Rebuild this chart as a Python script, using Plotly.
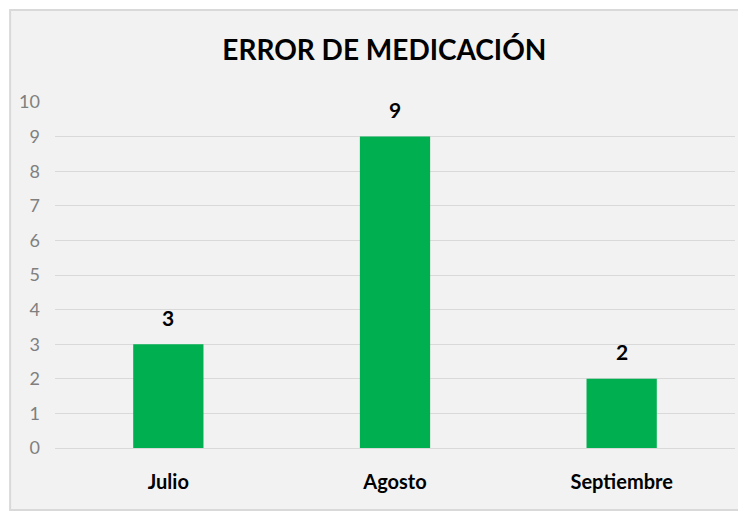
"""Error de medicación — bar chart by month."""
import plotly.graph_objects as go

meses = ["Julio", "Agosto", "Septiembre"]
errores = [3, 9, 2]
y_ticks = list(range(0, 11))

BAR_GREEN = "#00b050"
FONT = "Lato, Open Sans, sans-serif"

fig = go.Figure()
fig.add_trace(go.Bar(
    x=meses,
    y=errores,
    width=0.31,
    marker=dict(color=BAR_GREEN, line=dict(width=0)),
))

# value labels above each bar
for mes, val in zip(meses, errores):
    fig.add_annotation(
        x=mes, y=val, text=f"<b>{val}</b>", showarrow=False,
        yanchor="middle", yshift=27,
        font=dict(family=FONT, size=21, color="#000000"),
    )

# gray chart panel with thin border, like the spreadsheet chart area
fig.add_shape(
    type="rect", xref="paper", yref="paper",
    x0=-0.066, x1=1.007, y0=-0.179, y1=1.266,
    fillcolor="#f2f2f2", line=dict(color="#d9d9d9", width=2),
    layer="below",
)

# page body adds an 8px offset, so the figure is 8px smaller
fig.update_layout(
    width=738, height=504,
    paper_bgcolor="#ffffff",
    plot_bgcolor="rgba(0,0,0,0)",
    margin=dict(l=47, r=11, t=94, b=64),
    showlegend=False,
    title=dict(
        text="ERROR DE MEDICACIÓN",
        x=0.51, xanchor="center", y=0.917, yanchor="middle",
        font=dict(family=FONT, size=28, color="#000000", weight="bold"),
    ),
    font=dict(family=FONT),
    xaxis=dict(
        showgrid=False, showline=False, ticks="",
        tickfont=dict(family=FONT, size=20, color="#000000", weight="bold"),
        ticklabelstandoff=20,
    ),
    yaxis=dict(
        range=[0, 10], tickvals=y_ticks,
        showgrid=True, gridcolor="#d9d9d9", gridwidth=1,
        zeroline=True, zerolinecolor="#d9d9d9", zerolinewidth=1,
        showline=False, ticks="",
        tickfont=dict(family=FONT, size=18, color="#7f7f7f"),
        ticklabelstandoff=14,
    ),
)

fig.write_html("out.html")
